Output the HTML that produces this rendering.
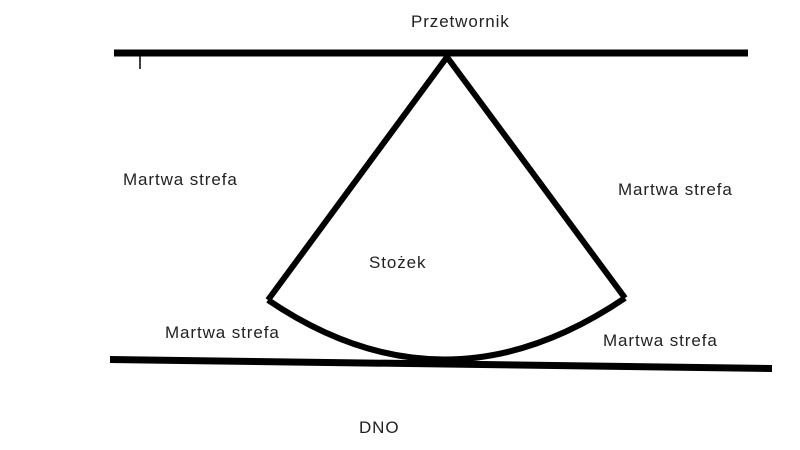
<!DOCTYPE html>
<html><head><style>
body{margin:0;background:#fff;width:800px;height:450px;overflow:hidden;position:relative;font-family:"Liberation Sans",sans-serif;}
.t{position:absolute;font-size:17px;letter-spacing:0.9px;color:#222;line-height:20px;white-space:nowrap}
</style></head><body>
<svg width="800" height="450" style="position:absolute;left:0;top:0">
<line x1="114" y1="53" x2="748" y2="53" stroke="#000" stroke-width="7"/>
<line x1="140" y1="53" x2="140" y2="69" stroke="#000" stroke-width="1.5"/>
<polygon points="110,356 772,365 772,372 110,363" fill="#000"/>
<polyline points="268,300 447,57 625,298" fill="none" stroke="#000" stroke-width="6" stroke-linejoin="miter"/>
<path d="M268,300 Q445,420 625,298" fill="none" stroke="#000" stroke-width="6"/>
</svg>
<div class="t" style="left:411px;top:12px">Przetwornik</div>
<div class="t" style="left:123px;top:170px">Martwa strefa</div>
<div class="t" style="left:618px;top:180px">Martwa strefa</div>
<div class="t" style="left:369px;top:253px">Stożek</div>
<div class="t" style="left:165px;top:323px">Martwa strefa</div>
<div class="t" style="left:603px;top:331px">Martwa strefa</div>
<div class="t" style="left:359px;top:418px">DNO</div>
</body></html>
